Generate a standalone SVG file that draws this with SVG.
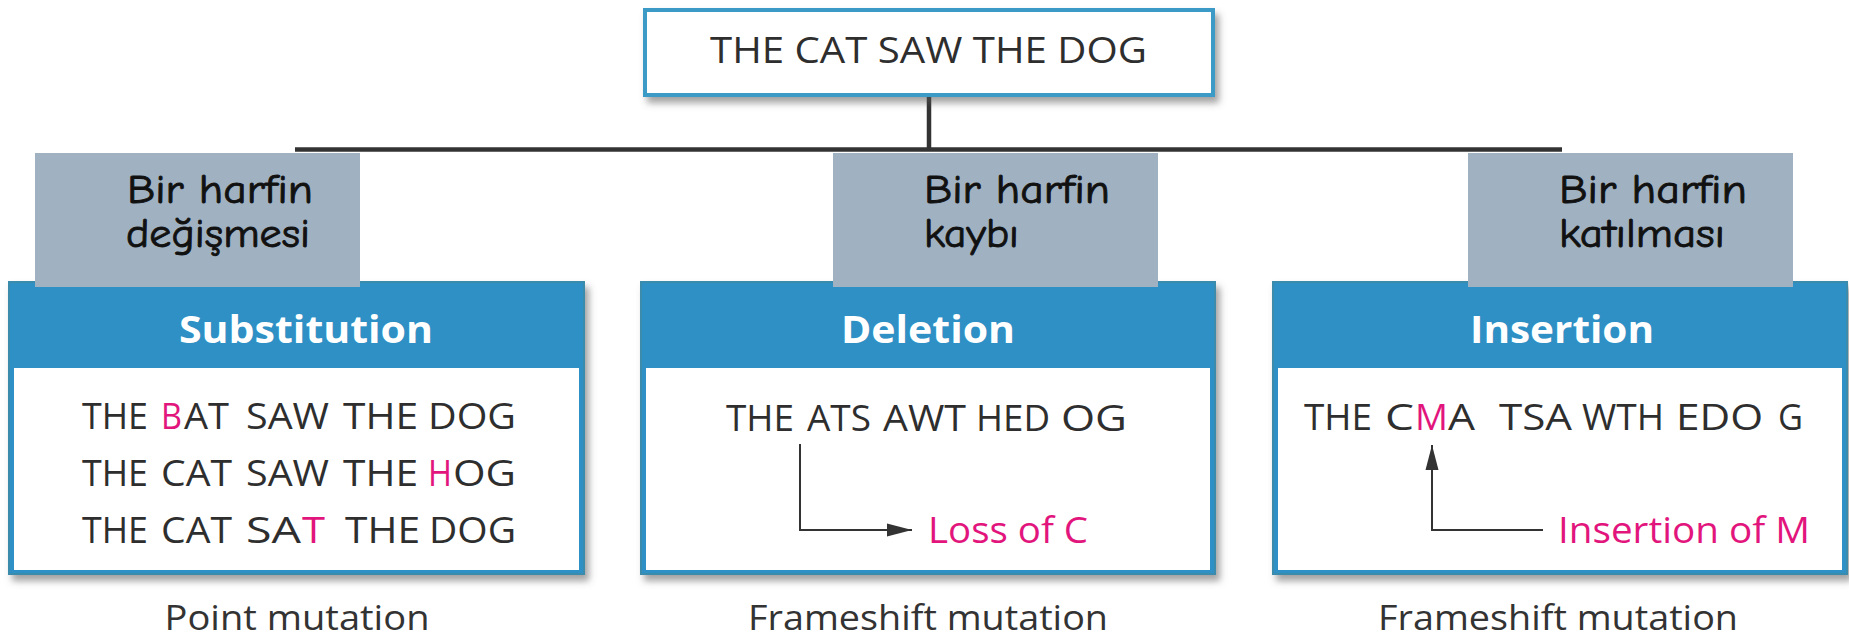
<svg xmlns="http://www.w3.org/2000/svg" width="1849" height="637" viewBox="0 0 1849 637">
<defs>
<filter id="sh" x="-5%" y="-10%" width="115%" height="130%">
<feDropShadow dx="4" dy="6" stdDeviation="3.5" flood-color="#555" flood-opacity="0.55"/>
</filter>
<marker id="ah" markerUnits="userSpaceOnUse" markerWidth="26" markerHeight="14" refX="25" refY="7" orient="auto">
<path d="M0,0.5 L25,7 L0,13.5 z" fill="#333"/>
</marker>
<style>
.seq{font-family:"Open Sans","Noto Sans",sans-serif;font-size:36px;fill:#2e2e2e}
.pk{fill:#e2157d}
.hd{font-family:"Open Sans","Noto Sans",sans-serif;font-weight:700;font-size:38px;fill:#ffffff}
.tr{font-family:"Comic Sans MS","Comic Neue","DejaVu Sans",sans-serif;font-size:41px;fill:#111;stroke:#111;stroke-width:0.9}
.cap{font-family:"Open Sans","Noto Sans",sans-serif;font-size:35px;fill:#333;text-anchor:middle}
.gray{fill:#a0b1c2}
.blue{fill:#2f90c5;stroke:#3a8bad;stroke-width:2}
.inner{fill:#ffffff}
.conn{stroke:#333;stroke-width:4.5;fill:none}
.arr{stroke:#333;stroke-width:2;fill:none}
</style>
</defs>
<rect width="1849" height="637" fill="#ffffff"/>

<g id="connectors">
<line class="conn" x1="929" y1="96" x2="929" y2="149.5"/>
<line class="conn" x1="295" y1="149.5" x2="1562" y2="149.5"/>
</g>

<g id="top">
<rect x="645" y="10" width="568" height="85" fill="#ffffff" stroke="#3a9ac6" stroke-width="4" filter="url(#sh)"/>
<text class="seq" x="710" y="63" font-size="41" textLength="437" lengthAdjust="spacingAndGlyphs">THE CAT SAW THE DOG</text>
</g>

<g id="substitution">
<rect class="blue" x="9" y="282" width="575" height="292" filter="url(#sh)"/>
<rect class="inner" x="14" y="368" width="565" height="202"/>
<text class="hd" x="179" y="343" textLength="254" lengthAdjust="spacingAndGlyphs">Substitution</text>
<g class="seq">
<text x="82" y="429" textLength="66" lengthAdjust="spacingAndGlyphs">THE</text>
<text class="pk" x="161" y="429" textLength="21" lengthAdjust="spacingAndGlyphs">B</text>
<text x="184" y="429" textLength="45" lengthAdjust="spacingAndGlyphs">AT</text>
<text x="246" y="429" textLength="83" lengthAdjust="spacingAndGlyphs">SAW</text>
<text x="343" y="429" textLength="75" lengthAdjust="spacingAndGlyphs">THE</text>
<text x="428" y="429" textLength="88" lengthAdjust="spacingAndGlyphs">DOG</text>

<text x="82" y="486" textLength="66" lengthAdjust="spacingAndGlyphs">THE</text>
<text x="161" y="486" textLength="71" lengthAdjust="spacingAndGlyphs">CAT</text>
<text x="246" y="486" textLength="83" lengthAdjust="spacingAndGlyphs">SAW</text>
<text x="343" y="486" textLength="75" lengthAdjust="spacingAndGlyphs">THE</text>
<text class="pk" x="428" y="486" textLength="24" lengthAdjust="spacingAndGlyphs">H</text>
<text x="453" y="486" textLength="63" lengthAdjust="spacingAndGlyphs">OG</text>

<text x="82" y="543" textLength="66" lengthAdjust="spacingAndGlyphs">THE</text>
<text x="161" y="543" textLength="71" lengthAdjust="spacingAndGlyphs">CAT</text>
<text x="246" y="543" textLength="55" lengthAdjust="spacingAndGlyphs">SA</text>
<text class="pk" x="302" y="543" textLength="23" lengthAdjust="spacingAndGlyphs">T</text>
<text x="345" y="543" textLength="75" lengthAdjust="spacingAndGlyphs">THE</text>
<text x="429" y="543" textLength="87" lengthAdjust="spacingAndGlyphs">DOG</text>
</g>
</g>
<g id="label-sub">
<rect class="gray" x="35" y="153" width="325" height="134"/>
<text class="tr" x="127" y="203" textLength="186" lengthAdjust="spacingAndGlyphs">Bir harfin</text>
<text class="tr" x="126" y="247" textLength="184" lengthAdjust="spacingAndGlyphs">değişmesi</text>
</g>
<text class="cap" x="297" y="630" textLength="265" lengthAdjust="spacingAndGlyphs">Point mutation</text>

<g id="deletion">
<rect class="blue" x="641" y="282" width="574" height="292" filter="url(#sh)"/>
<rect class="inner" x="646" y="368" width="564" height="202"/>
<text class="hd" x="841" y="343" textLength="174" lengthAdjust="spacingAndGlyphs">Deletion</text>
<g class="seq">
<text x="726" y="431" textLength="68" lengthAdjust="spacingAndGlyphs">THE</text>
<text x="807" y="431" textLength="64" lengthAdjust="spacingAndGlyphs">ATS</text>
<text x="883" y="431" textLength="83" lengthAdjust="spacingAndGlyphs">AWT</text>
<text x="976" y="431" textLength="74" lengthAdjust="spacingAndGlyphs">HED</text>
<text x="1061" y="431" textLength="66" lengthAdjust="spacingAndGlyphs">OG</text>
</g>
<path class="arr" d="M800,444 V530 H912" marker-end="url(#ah)"/>
<text class="seq pk" x="928" y="543" textLength="160" lengthAdjust="spacingAndGlyphs">Loss of C</text>
</g>
<g id="label-del">
<rect class="gray" x="833" y="153" width="325" height="134"/>
<text class="tr" x="924" y="203" textLength="186" lengthAdjust="spacingAndGlyphs">Bir harfin</text>
<text class="tr" x="924" y="247" textLength="95" lengthAdjust="spacingAndGlyphs">kaybı</text>
</g>
<text class="cap" x="928" y="630" textLength="360" lengthAdjust="spacingAndGlyphs">Frameshift mutation</text>

<g id="insertion">
<rect class="blue" x="1273" y="282" width="574" height="292" filter="url(#sh)"/>
<rect class="inner" x="1278" y="368" width="564" height="202"/>
<text class="hd" x="1470" y="343" textLength="184" lengthAdjust="spacingAndGlyphs">Insertion</text>
<g class="seq">
<text x="1304" y="430" textLength="68" lengthAdjust="spacingAndGlyphs">THE</text>
<text x="1385" y="430" textLength="29" lengthAdjust="spacingAndGlyphs">C</text>
<text class="pk" x="1415" y="430" textLength="33" lengthAdjust="spacingAndGlyphs">M</text>
<text x="1448" y="430" textLength="27" lengthAdjust="spacingAndGlyphs">A</text>
<text x="1499" y="430" textLength="73" lengthAdjust="spacingAndGlyphs">TSA</text>
<text x="1582" y="430" textLength="82" lengthAdjust="spacingAndGlyphs">WTH</text>
<text x="1676" y="430" textLength="87" lengthAdjust="spacingAndGlyphs">EDO</text>
<text x="1778" y="430" textLength="25" lengthAdjust="spacingAndGlyphs">G</text>
</g>
<path class="arr" d="M1543,530 H1432 V445" marker-end="url(#ah)"/>
<text class="seq pk" x="1558" y="543" textLength="252" lengthAdjust="spacingAndGlyphs">Insertion of M</text>
</g>
<g id="label-ins">
<rect class="gray" x="1468" y="153" width="325" height="134"/>
<text class="tr" x="1559" y="203" textLength="188" lengthAdjust="spacingAndGlyphs">Bir harfin</text>
<text class="tr" x="1559" y="247" textLength="166" lengthAdjust="spacingAndGlyphs">katılması</text>
</g>
<text class="cap" x="1558" y="630" textLength="360" lengthAdjust="spacingAndGlyphs">Frameshift mutation</text>
</svg>
